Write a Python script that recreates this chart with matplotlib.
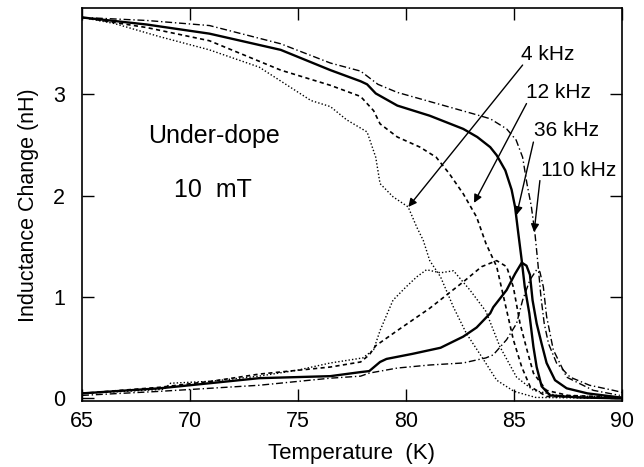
import matplotlib.pyplot as plt

plt.rcParams["font.family"] = ["Liberation Sans", "DejaVu Sans"]

# 4 kHz (dotted)
t_4_up = [65, 66.5, 68.6, 70.9, 73.2, 75.6, 76.5, 77.25, 78.2, 78.6, 78.8, 79.4, 80.1,
          80.5, 80.8, 81.1, 81.6, 82.2, 82.8, 83.6, 84.2, 85.0, 86.0, 90]
l_4_up = [3.76, 3.70, 3.57, 3.44, 3.27, 2.94, 2.88, 2.75, 2.63, 2.38, 2.12, 1.99, 1.89,
          1.69, 1.56, 1.36, 1.20, 0.90, 0.64, 0.38, 0.18, 0.07, 0.01, 0.0]
t_4_lo = [65, 67, 68.8, 69.1, 71, 73.2, 75, 76.5, 78.0, 78.5, 78.8, 79.4, 80.0, 80.5,
          80.95, 81.6, 82.2, 82.96, 83.7, 84.35, 85.12, 85.9, 87, 90]
l_4_lo = [0.05, 0.07, 0.09, 0.15, 0.17, 0.22, 0.28, 0.35, 0.40, 0.48, 0.67, 0.97, 1.10,
          1.20, 1.27, 1.24, 1.26, 1.07, 0.86, 0.51, 0.21, 0.08, 0.03, 0.01]

# 12 kHz (dashed)
t_12_up = [65, 68, 70.9, 74.2, 76.5, 77.9, 78.5, 78.8, 79.6, 80.65, 81.4, 82.0, 82.65,
           83.27, 83.7, 84.2, 84.66, 84.97, 85.36, 85.74, 86.5, 90]
l_12_up = [3.76, 3.66, 3.53, 3.24, 3.09, 2.98, 2.84, 2.71, 2.58, 2.48, 2.38, 2.22, 2.02,
           1.79, 1.53, 1.30, 0.87, 0.58, 0.31, 0.12, 0.02, 0.0]
t_12_lo = [65, 68.6, 71, 73.2, 76.5, 77.9, 78.3, 78.6, 79.6, 81.1, 82.65, 83.5, 84.2,
           84.66, 84.97, 85.28, 85.6, 85.9, 86.5, 87.5, 90]
l_12_lo = [0.05, 0.11, 0.17, 0.24, 0.31, 0.36, 0.43, 0.52, 0.67, 0.89, 1.15, 1.30, 1.36,
           1.30, 1.10, 0.74, 0.48, 0.25, 0.08, 0.03, 0.01]

# 36 kHz (solid)
t_36_up = [65, 68, 70.9, 74.2, 76.5, 77.9, 78.2, 78.6, 79.6, 81.1, 82.65, 83.3, 83.9,
           84.2, 84.6, 84.89, 85.05, 85.2, 85.36, 85.5, 85.71, 85.9, 86.05, 86.28,
           86.67, 88, 90]
l_36_up = [3.76, 3.69, 3.60, 3.44, 3.24, 3.13, 3.10, 3.01, 2.89, 2.79, 2.66, 2.58, 2.48,
           2.40, 2.25, 2.06, 1.89, 1.63, 1.36, 1.10, 0.84, 0.51, 0.31, 0.12,
           0.03, 0.01, 0.0]
t_36_lo = [65, 68.6, 73.2, 76.5, 77.9, 78.3, 78.8, 79.1, 80.3, 81.6, 82.65, 83.27, 83.9,
           84.04, 84.66, 85.05, 85.36, 85.58, 85.74, 85.86, 86.05, 86.28, 86.51, 86.9,
           87.44, 88.4, 89.9]
l_36_lo = [0.05, 0.10, 0.20, 0.22, 0.26, 0.27, 0.36, 0.39, 0.44, 0.50, 0.61, 0.70, 0.84,
           0.90, 1.07, 1.23, 1.34, 1.31, 1.22, 0.97, 0.74, 0.54, 0.35, 0.18,
           0.10, 0.05, 0.01]

# 110 kHz (dash-dot)
t_110_up = [65, 68, 70.9, 74.2, 76.5, 77.9, 78.7, 79.6, 81.1, 83.1, 83.9, 84.66, 85.1,
            85.4, 85.6, 85.8, 85.97, 86.1, 86.25, 86.4, 86.6, 86.97, 87.6, 88.5, 89.6, 90]
l_110_up = [3.76, 3.73, 3.68, 3.50, 3.31, 3.23, 3.10, 3.02, 2.93, 2.81, 2.76, 2.66, 2.55,
            2.38, 2.12, 1.90, 1.63, 1.35, 1.00, 0.74, 0.54, 0.35, 0.21, 0.13, 0.08, 0.06]
t_110_lo = [65, 68.6, 73.2, 76.5, 77.9, 78.3, 79.6, 81.1, 82.65, 83.7, 84.04, 84.66, 85.12,
            85.4, 85.74, 86.05, 86.2, 86.36, 86.51, 86.82, 87.44, 88.67, 89.9]
l_110_lo = [0.03, 0.07, 0.13, 0.20, 0.22, 0.25, 0.30, 0.33, 0.35, 0.40, 0.43, 0.58, 0.74,
            0.97, 1.17, 1.27, 1.25, 1.10, 0.81, 0.48, 0.21, 0.08, 0.03]

fig = plt.figure(figsize=(6.44, 4.67), dpi=100)
ax = fig.add_axes([0.1273, 0.1403, 0.8385, 0.8419])

dot = dict(color="k", lw=1.0, linestyle=(0, (1, 1.5)))
dash = dict(color="k", lw=1.2, linestyle=(0, (2.5, 2)))
solid = dict(color="k", lw=1.7, linestyle="-")
dashdot = dict(color="k", lw=1.0, linestyle=(0, (5, 2, 1, 2)))

ax.plot(t_4_up, l_4_up, **dot)
ax.plot(t_4_lo, l_4_lo, **dot)
ax.plot(t_12_up, l_12_up, **dash)
ax.plot(t_12_lo, l_12_lo, **dash)
ax.plot(t_36_up, l_36_up, **solid)
ax.plot(t_36_lo, l_36_lo, **solid)
ax.plot(t_110_up, l_110_up, **dashdot)
ax.plot(t_110_lo, l_110_lo, **dashdot)

arrow = dict(arrowstyle="-|>", color="k", lw=1.0, mutation_scale=12, shrinkA=0, shrinkB=0)
ax.annotate("", xy=(80.11, 1.89), xytext=(85.40, 3.29), arrowprops=arrow)
ax.annotate("", xy=(83.15, 1.93), xytext=(85.58, 2.91), arrowprops=arrow)
ax.annotate("", xy=(85.12, 1.81), xytext=(85.90, 2.53), arrowprops=arrow)
ax.annotate("", xy=(85.93, 1.64), xytext=(86.20, 2.15), arrowprops=arrow)

# frequency labels placed in pixel coordinates
fs = 15
ax.text(548, 467 - 54, "4 kHz", transform=None, fontsize=fs, ha="center", va="center")
ax.text(558, 467 - 92, "12 kHz", transform=None, fontsize=fs, ha="center", va="center")
ax.text(566, 467 - 130, "36 kHz", transform=None, fontsize=fs, ha="center", va="center")
ax.text(579, 467 - 170, "110 kHz", transform=None, fontsize=fs, ha="center", va="center")

ax.text(71.1, 2.52, "Under-dope", fontsize=18, ha="center", va="baseline")
ax.text(71.05, 1.99, "10  mT", fontsize=18, ha="center", va="baseline")

ax.set_xlim(65, 90)
ax.set_ylim(-0.03, 3.85)
ax.set_xticks([65, 70, 75, 80, 85, 90])
ax.set_yticks([0, 1, 2, 3])
ax.tick_params(direction="in", length=8.5, width=1.0, top=True, right=True,
               labelsize=15.5, pad=7)
ax.tick_params(axis="y", pad=12)
for s in ax.spines.values():
    s.set_linewidth(1.2)

ax.set_xlabel("Temperature  (K)", fontsize=16, labelpad=8)
ax.set_ylabel("Inductance Change (nH)", fontsize=15.5, labelpad=10)

fig.savefig("out.png", dpi=100)
